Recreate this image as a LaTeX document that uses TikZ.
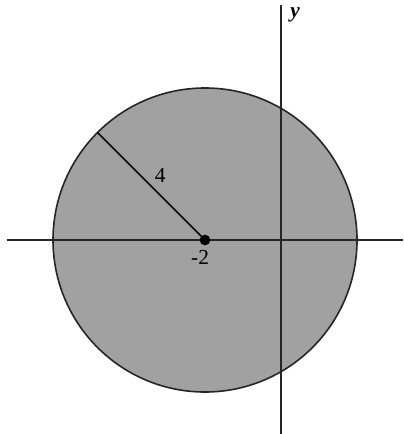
\documentclass[tikz,border=0pt]{standalone}
\usepackage{fontspec}
\setmainfont{Liberation Serif}
\usetikzlibrary{calc}

\begin{document}
\begin{tikzpicture}[x=0.5cm, y=0.5cm,
  every node/.style={font=\footnotesize},
  ax/.style={line width=0.6pt, black!85},
  disk/.style={fill=black!37, draw=black!85, line width=0.6pt},
  dot/.style={circle, fill=black, inner sep=0pt, minimum size=4pt}
]
\useasboundingbox (-7.395,-5.105) rectangle (3.21,6.316);
% the disk of radius 4 about (-2,0)
\node[dot] (c) at (-2,0) {};
\fill[disk] (c.center) circle (4);
% axes
\coordinate (xl) at (-7.22,0);
\coordinate (xr) at (3.21,0);
\coordinate (yt) at (0,6.18);
\coordinate (yb) at (0,-5.105);
\draw[ax] (xl) -- (xr);
\draw[ax] (yb) -- (yt);
\node[font=\footnotesize\bfseries\itshape] (ylab) at (0.37,5.92) {y};
% radius
\coordinate (r) at ($(c.center)+(135:4)$);
\draw[line width=0.6pt] (c.center) -- (r);
\node[dot] (cc) at (c.center) {};
\node (rlab) at (-3.18,1.71) {4};
\node (clab) at (-2.13,-0.47) {-2};
\end{tikzpicture}
\end{document}
